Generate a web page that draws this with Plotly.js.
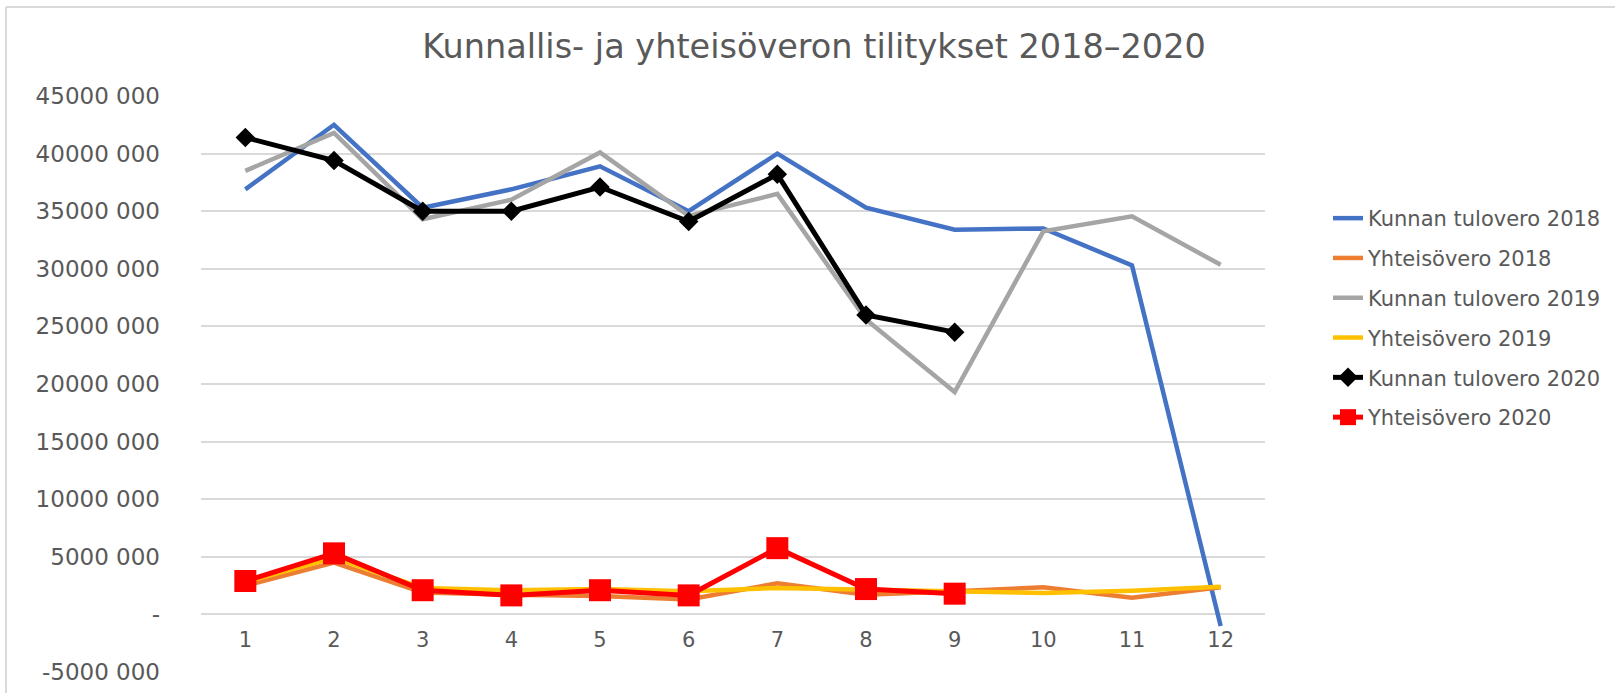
<!DOCTYPE html>
<html>
<head>
<meta charset="utf-8">
<script src="https://cdn.plot.ly/plotly-3.0.1.min.js"></script>
<style>
  html, body { margin: 0; padding: 0; background: #ffffff; }
  #chart { width: 1615px; height: 693px; }
</style>
</head>
<body>
<div id="chart"></div>
<script>
// ---- Data (values in euros) ----
const months = [1, 2, 3, 4, 5, 6, 7, 8, 9, 10, 11, 12];

const seriesNames = [
  "Kunnan tulovero 2018",
  "Yhteisövero 2018",
  "Kunnan tulovero 2019",
  "Yhteisövero 2019",
  "Kunnan tulovero 2020",
  "Yhteisövero 2020"
];

const kunnanTulovero2018 = [36900000, 42500000, 35300000, 36900000, 38900000, 35000000, 40000000, 35300000, 33400000, 33500000, 30300000, -1000000];
const yhteisovero2018    = [2500000, 4500000, 1900000, 1700000, 1600000, 1300000, 2700000, 1700000, 2000000, 2350000, 1450000, 2350000];
const kunnanTulovero2019 = [38500000, 41800000, 34300000, 36000000, 40100000, 34600000, 36500000, 25600000, 19300000, 33250000, 34550000, 30350000];
const yhteisovero2019    = [2800000, 4900000, 2300000, 2100000, 2200000, 2000000, 2300000, 2150000, 1950000, 1850000, 2050000, 2400000];
const kunnanTulovero2020 = [41400000, 39400000, 35000000, 35000000, 37100000, 34100000, 38200000, 26000000, 24500000];
const yhteisovero2020    = [2900000, 5300000, 2100000, 1650000, 2100000, 1650000, 5750000, 2200000, 1800000];

const yTickVals = [-5000000, 0, 5000000, 10000000, 15000000, 20000000, 25000000, 30000000, 35000000, 40000000, 45000000];
const yTickText = ["-5000 000", "-", "5000 000", "10000 000", "15000 000", "20000 000", "25000 000", "30000 000", "35000 000", "40000 000", "45000 000"];

const chartTitle = "Kunnallis- ja yhteisöveron tilitykset 2018–2020";

// ---- Styles ----
const colors = ["#4472C4", "#ED7D31", "#A5A5A5", "#FFC000", "#000000", "#FF0000"];
const allValues = [kunnanTulovero2018, yhteisovero2018, kunnanTulovero2019, yhteisovero2019, kunnanTulovero2020, yhteisovero2020];

const traces = allValues.map((vals, i) => {
  const t = {
    type: "scatter",
    mode: "lines",
    name: seriesNames[i],
    legendgroup: "g" + i,
    x: months.slice(0, vals.length),
    y: vals,
    line: { color: colors[i], width: 4.5 },
    hoverinfo: "x+y+name"
  };
  if (i === 4) {
    t.mode = "lines+markers";
    t.line.width = 5;
    t.marker = { symbol: "diamond", size: 15, color: colors[i] };
  }
  if (i === 5) {
    t.mode = "lines+markers";
    t.line.width = 5;
    t.marker = { symbol: "square", size: 22, color: colors[i] };
  }
  return t;
});

const W = 1615, H = 693;
const mL = 201, mR = 350, mT = 96, mB = 21;
const plotW = W - mL - mR, plotH = H - mT - mB;
const px2paperX = px => (px - mL) / plotW;
const px2paperY = py => (H - mB - py) / plotH;

const layout = {
  width: W,
  height: H,
  margin: { l: mL, r: mR, t: mT, b: mB, pad: 0 },
  paper_bgcolor: "#ffffff",
  plot_bgcolor: "#ffffff",
  font: { family: "DejaVu Sans, sans-serif", color: "#595959" },
  title: {
    text: chartTitle,
    font: { family: "DejaVu Sans, sans-serif", size: 33.5, color: "#595959" },
    x: 814 / W, xref: "container", xanchor: "center",
    y: 1 - 46 / H, yref: "container", yanchor: "middle"
  },
  xaxis: {
    range: [0.5, 12.5],
    tickmode: "array",
    tickvals: months,
    ticktext: months.map(String),
    showgrid: false,
    zeroline: false,
    showline: false,
    ticks: "",
    anchor: "free",
    position: 0.1,
    ticklabelstandoff: 11,
    tickfont: { family: "DejaVu Sans, sans-serif", size: 21, color: "#595959" },
    fixedrange: true
  },
  yaxis: {
    range: [-5000000, 45000000],
    tickmode: "array",
    tickvals: yTickVals,
    ticktext: yTickText,
    showgrid: true,
    gridcolor: "#d9d9d9",
    gridwidth: 2,
    zeroline: false,
    showline: false,
    ticks: "",
    ticklabelstandoff: 40,
    tickfont: { family: "DejaVu Sans, sans-serif", size: 23, color: "#595959" },
    fixedrange: true
  },
  showlegend: true,
  legend: {
    x: 1328 / W, xref: "container", xanchor: "left",
    y: 1 - 198 / H, yref: "container", yanchor: "top",
    font: { family: "DejaVu Sans, sans-serif", size: 21, color: "#595959" },
    traceorder: "grouped",
    tracegroupgap: 9.5,
    bgcolor: "rgba(0,0,0,0)",
    itemclick: false,
    itemdoubleclick: false
  },
  shapes: [
    { type: "line", xref: "paper", yref: "paper", layer: "below",
      x0: px2paperX(6), x1: px2paperX(1700), y0: px2paperY(7), y1: px2paperY(7),
      line: { color: "#d9d9d9", width: 2 } },
    { type: "line", xref: "paper", yref: "paper", layer: "below",
      x0: px2paperX(6), x1: px2paperX(6), y0: px2paperY(7), y1: px2paperY(800),
      line: { color: "#d9d9d9", width: 2 } }
  ]
};

Plotly.newPlot("chart", traces, layout, { displayModeBar: false, staticPlot: false, responsive: false });
</script>
</body>
</html>
